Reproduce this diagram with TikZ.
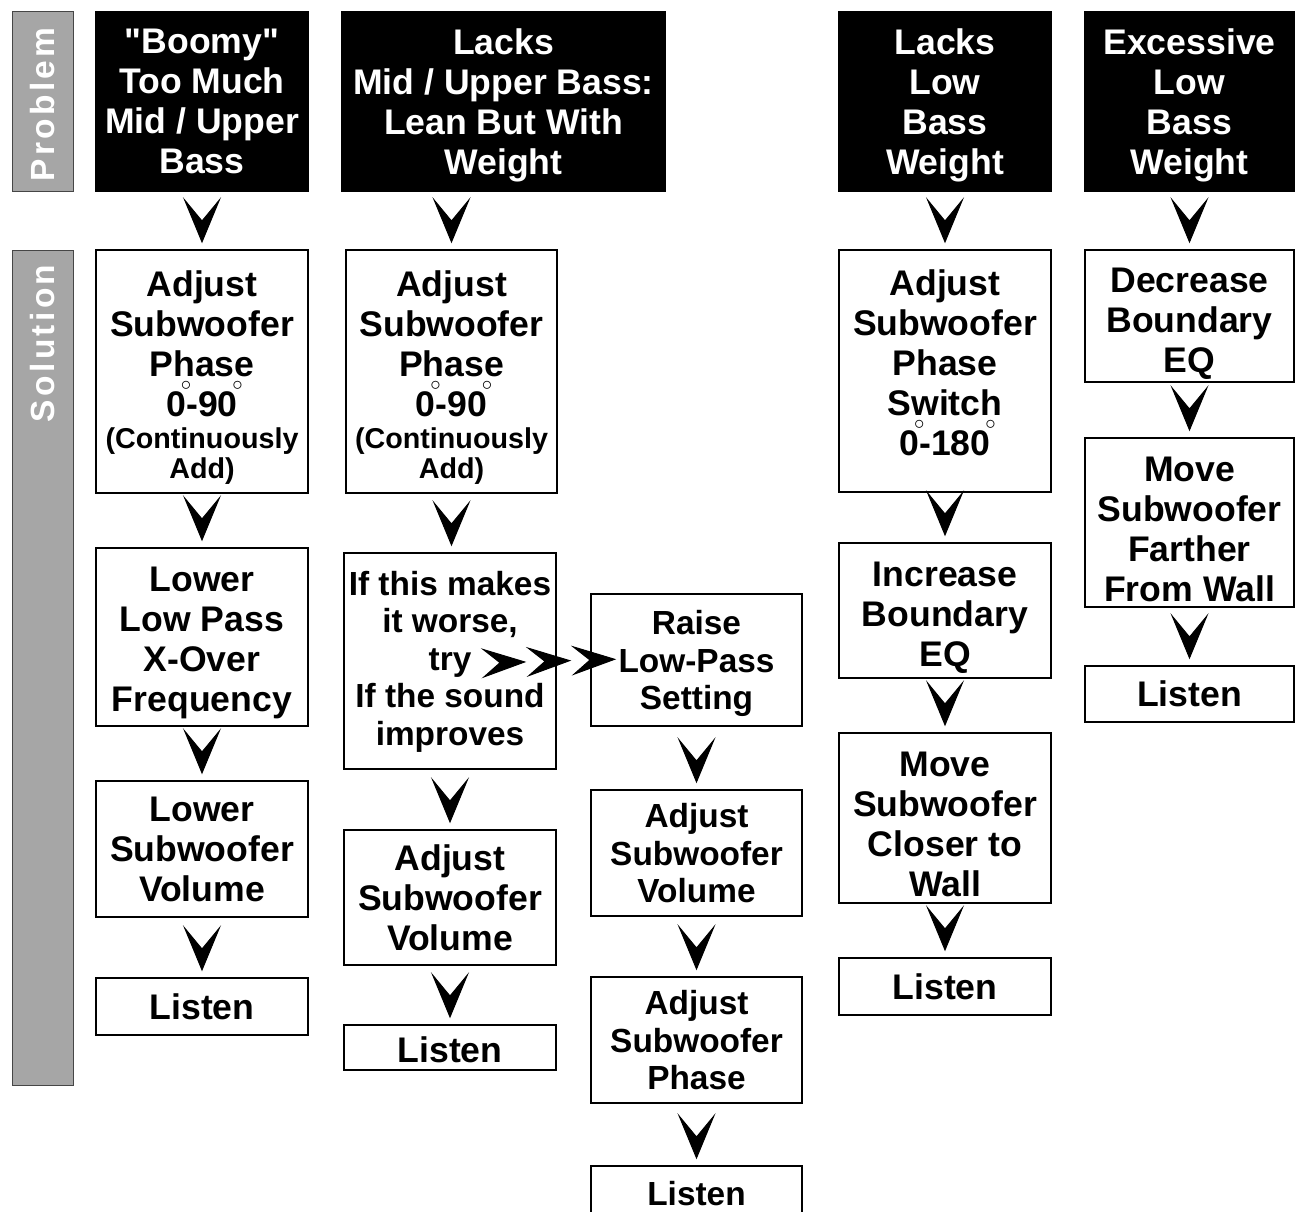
\documentclass[tikz,border=0pt]{standalone}
\usepackage{fontspec}
\setmainfont{Liberation Sans}[Ligatures=TeXOff]
\usepackage{xcolor}
\definecolor{labelgray}{RGB}{166, 166, 166}
\definecolor{edgegray}{RGB}{70, 70, 70}
\usepackage{tikz}
\usetikzlibrary{arrows.meta, positioning}

\newcommand{\bigtxt}{\fontsize{35.6}{40}\selectfont\bfseries}
\newcommand{\midtxt}{\fontsize{33.4}{37.5}\selectfont\bfseries}
\newcommand{\smalltxt}{\fontsize{28.7}{30}\selectfont\bfseries}
\newcommand{\dg}{\makebox[0pt]{\raisebox{26pt}{\fontsize{20}{20}\selectfont$\circ$}}}
\newcommand{\lift}[1]{\rule{0pt}{#1pt}}

\tikzset{
  chevv/.tip={Stealth[length=46pt, width=38pt, inset=23pt, color=black, fill=black]},
  chevh/.tip={Stealth[length=45pt, width=30pt, inset=18pt, sep=0pt, color=black, fill=black]},
}

\begin{document}
\begin{tikzpicture}[x=1pt, y=-1pt,
    problem/.style={draw, fill=black, text=white, line width=1.5pt, inner sep=0pt, align=center, text depth=0pt, font=\bigtxt},
    solution/.style={draw, fill=white, line width=1.5pt, inner sep=0pt, align=center, text depth=0pt, font=\bigtxt},
    side/.style={draw=edgegray, fill=labelgray, line width=1pt},
    sidetext/.style={rotate=90, text=white, inner sep=0pt, font={\fontsize{33.5}{40}\selectfont\bfseries\addfontfeature{LetterSpace=10}}},
    wh/.style 2 args={minimum width=#1pt, minimum height=#2pt},
    flow/.style={white, line width=1pt, shorten <=2pt, shorten >=6pt, -{chevv[]}},
    trylink/.style={white, line width=1pt, shorten >=-26pt, -{chevh[]chevh[]chevh[]}}]
  \useasboundingbox (0,0) rectangle (1295,1212);

  % side labels
  \node[side, wh={61}{179}] (probside) at (42.5,101.5) {};
  \node[side, wh={61}{835}] (solside) at (42.5,667.5) {};
  \node[sidetext] (problbl) at ([yshift=-3pt]probside) {Problem};
  \node[sidetext, anchor=east] (sollbl) at ([yshift=-15pt]solside.north) {Solution};

  % problems
  \node[problem, wh={212}{179}] (p1) at (202,101.5) {\char34 Boomy\char34\\Too Much\\Mid / Upper\\Bass};
  \node[problem, wh={323}{179}] (p2) at (503.5,101.5) {Lacks\\Mid / Upper Bass:\\Lean But With\\Weight};
  \node[problem, wh={212}{179}] (p4) at (945,101.5) {Lacks\\Low\\Bass\\Weight};
  \node[problem, wh={209}{179}] (p5) at (1189.5,101.5) {Excessive\\Low\\Bass\\Weight};

  % solutions, column 1
  \node[solution, wh={212}{243}] (s1a) at (202,371.5) {\lift{32}Adjust\\Subwoofer\\Phase\\0\dg-90\dg\\[-8pt]{\smalltxt(Continuously}\\[-10pt]{\smalltxt Add)}};
  \node[solution, wh={212}{178}] (s1b) at (202,637) {\lift{28}Lower\\Low Pass\\X-Over\\Frequency};
  \node[solution, wh={212}{136}] (s1c) at (202,849) {Lower\\Subwoofer\\Volume};
  \node[solution, wh={212}{57}] (s1d) at (202,1006.5) {Listen};

  % column 2
  \node[solution, wh={211}{243}] (s2a) at (451.5,371.5) {\lift{32}Adjust\\Subwoofer\\Phase\\0\dg-90\dg\\[-8pt]{\smalltxt(Continuously}\\[-10pt]{\smalltxt Add)}};
  \node[solution, wh={212}{216}, font=\midtxt, text depth=6pt] (s2b) at (450,661) {If this makes\\it worse,\\try\\If the sound\\improves};
  \node[solution, wh={212}{135}] (s2c) at (450,897.5) {Adjust\\Subwoofer\\Volume};
  \node[solution, wh={212}{45}] (s2d) at (450,1047.5) {\lift{30}Listen};

  % column 3
  \node[solution, wh={211}{132}, font=\midtxt] (s3a) at (696.5,660) {Raise\\Low-Pass\\Setting};
  \node[solution, wh={211}{126}, font=\midtxt] (s3b) at (696.5,853) {Adjust\\Subwoofer\\Volume};
  \node[solution, wh={211}{126}, font=\midtxt] (s3c) at (696.5,1040) {Adjust\\Subwoofer\\Phase};
  \node[solution, wh={211}{54}, font=\midtxt] (s3d) at (696.5,1193) {Listen};

  % column 4
  \node[solution, wh={212}{242}, text depth=16pt] (s4a) at (945,371) {Adjust\\Subwoofer\\Phase\\Switch\\0\dg-180\dg};
  \node[solution, wh={212}{135}] (s4b) at (945,610.5) {\lift{31}Increase\\Boundary\\EQ};
  \node[solution, wh={212}{170}] (s4c) at (945,818) {\lift{36}Move\\Subwoofer\\Closer to\\Wall};
  \node[solution, wh={212}{57}] (s4d) at (945,986.5) {Listen};

  % column 5
  \node[solution, wh={209}{132}] (s5a) at (1189.5,316) {\lift{32}Decrease\\Boundary\\EQ};
  \node[solution, wh={209}{169}] (s5b) at (1189.5,522.5) {\lift{38}Move\\Subwoofer\\Farther\\From Wall};
  \node[solution, wh={209}{56}] (s5c) at (1189.5,694) {Listen};

  % chevrons
  \draw[flow] (p1) -- (s1a);
  \draw[flow] (s1a) -- (s1b);
  \draw[flow] (s1b) -- (s1c);
  \draw[flow] (s1c) -- (s1d);
  \draw[flow] (p2.south -| s2a) -- (s2a);
  \draw[flow] (s2a.south) -- (s2a.south |- s2b.north);
  \draw[flow] (s2b) -- (s2c);
  \draw[flow] (s2c) -- (s2d);
  \draw[trylink] (s2b.east) -- (s3a.west);
  \draw[flow] (s3a) -- (s3b);
  \draw[flow] (s3b) -- (s3c);
  \draw[flow] (s3c) -- (s3d);
  \draw[flow] (p4) -- (s4a);
  \draw[flow] (s4a) -- (s4b);
  \draw[flow] (s4b) -- (s4c);
  \draw[flow] (s4c) -- (s4d);
  \draw[flow] (p5) -- (s5a);
  \draw[flow] (s5a) -- (s5b);
  \draw[flow] (s5b) -- (s5c);
\end{tikzpicture}
\end{document}
